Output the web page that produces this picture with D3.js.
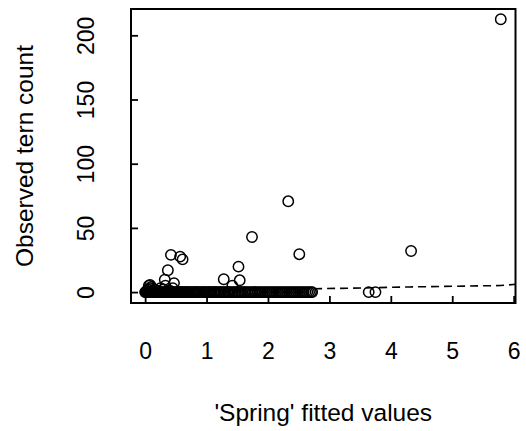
<!DOCTYPE html>
<html>
<head>
<meta charset="utf-8">
<script src="https://cdn.jsdelivr.net/npm/d3@7"></script>
<style>
  body { margin: 0; background: #fff; }
  text { font-family: "Liberation Sans", Arial, sans-serif; fill: #000; }
</style>
</head>
<body>
<svg id="chart" width="526" height="431"></svg>
<script>
// fitted values (x) and observed counts (y)
var zeroX = [0.00,0.01,0.02,0.03,0.04,0.05,0.06,0.07,0.09,0.10,0.12,0.13,0.15,0.17,0.18,0.20,
  0.22,0.24,0.25,0.27,0.29,0.31,0.33,0.34,0.36,0.38,0.40,0.42,0.44,0.45,0.47,0.49,0.51,0.53,
  0.55,0.57,0.59,0.61,0.63,0.65,0.67,0.69,0.71,0.73,0.75,0.78,0.80,0.82,0.84,0.86,0.88,0.91,
  0.93,0.95,0.97,0.99,1.02,1.04,1.06,1.08,1.11,1.13,1.15,1.17,1.20,1.22,1.24,1.27,1.29,1.31,
  1.34,1.36,1.38,1.41,1.43,1.46,1.48,1.51,1.53,1.56,1.58,1.61,1.63,1.66,1.69,1.72,1.75,1.78,
  1.80,1.83,1.86,1.89,1.92,1.95,1.98,2.01,2.04,2.07,2.10,2.13,2.16,2.19,2.22,2.25,2.28,2.31,
  2.34,2.37,2.40,2.43,2.46,2.49,2.52,2.55,2.58,2.61,2.64,2.67,2.70,2.72,3.64,3.75];

var otherX = [0.03,0.05,0.08,0.10,0.06,0.12,0.15,0.20,0.25,0.30,0.33,0.40,0.45,0.08,0.32,
  0.47,0.37,0.42,0.57,0.61,1.28,1.42,1.54,1.52,1.74,2.33,2.51,4.33,5.79];
var otherY = [1,2,3,4,5,1,2,1,3,2,5,1,3,5.5,9.7,7,17,29,27.6,25.5,10,5,9.2,19.8,42.9,70.7,
  29.5,32,212.5];

// dashed fitted line
var lineX = [0, 2.7, 3.7, 4.3, 5.79, 6.1];
var lineY = [0, 2.5, 3.4, 4.0, 5.1, 6.3];

var xTicks = [0, 1, 2, 3, 4, 5, 6];
var yTicks = [0, 50, 100, 150, 200];

var svg = d3.select("#chart");
svg.append("rect").attr("width", 526).attr("height", 431).attr("fill", "#fff");

var pL = 131, pR = 515.5, pT = 9, pB = 303;

var x = d3.scaleLinear().domain([-0.23, 6.03]).range([pL, pR]);
var y = d3.scaleLinear().domain([-8.5, 220.5]).range([pB, pT]);

var points = zeroX.map(function(d) { return {x: d, y: 0}; })
  .concat(otherX.map(function(d, i) { return {x: d, y: otherY[i]}; }));

svg.append("clipPath").attr("id", "clip")
  .append("rect").attr("x", pL).attr("y", pT)
  .attr("width", pR - pL).attr("height", pB - pT);

var line = d3.line()
  .x(function(d, i) { return x(d); })
  .y(function(d, i) { return y(lineY[i]); });

svg.append("path")
  .attr("d", line(lineX))
  .attr("clip-path", "url(#clip)")
  .attr("fill", "none")
  .attr("stroke", "#000")
  .attr("stroke-width", 1.6)
  .attr("stroke-dasharray", "8,5");

svg.append("g")
  .selectAll("circle")
  .data(points)
  .enter()
  .append("circle")
  .attr("cx", function(d) { return x(d.x); })
  .attr("cy", function(d) { return y(d.y); })
  .attr("r", 5.2)
  .attr("fill", "none")
  .attr("stroke", "#000")
  .attr("stroke-width", 1.5);

// x axis, ticks pointing inward
var xAxis = svg.append("g")
  .attr("transform", "translate(0," + pB + ")")
  .call(d3.axisBottom(x).tickValues(xTicks).tickSize(-7).tickPadding(40).tickFormat(d3.format("d")));
xAxis.select(".domain").remove();
xAxis.selectAll("line").attr("stroke-width", 1.8);
xAxis.selectAll("text").attr("font-size", 23).style("font-family", "Liberation Sans, Arial, sans-serif");

// y axis, rotated labels
var yAxis = svg.append("g")
  .attr("transform", "translate(" + pL + ",0)")
  .call(d3.axisLeft(y).tickValues(yTicks).tickSize(-7).tickFormat(d3.format("d")));
yAxis.select(".domain").remove();
yAxis.selectAll("line").attr("stroke-width", 1.8);
yAxis.selectAll("text")
  .attr("x", 0)
  .attr("y", -37)
  .attr("dy", 0)
  .attr("transform", "rotate(-90)")
  .attr("text-anchor", "middle")
  .attr("font-size", 23)
  .style("font-family", "Liberation Sans, Arial, sans-serif");

svg.append("rect")
  .attr("x", pL).attr("y", pT)
  .attr("width", pR - pL).attr("height", pB - pT)
  .attr("fill", "none").attr("stroke", "#000").attr("stroke-width", 2);

svg.append("text")
  .attr("x", (pL + pR) / 2)
  .attr("y", 421)
  .attr("text-anchor", "middle")
  .attr("font-size", 24.5)
  .text("'Spring' fitted values");

svg.append("text")
  .attr("transform", "translate(33," + (pT + pB) / 2 + ") rotate(-90)")
  .attr("text-anchor", "middle")
  .attr("font-size", 24.5)
  .text("Observed tern count");
</script>
</body>
</html>
